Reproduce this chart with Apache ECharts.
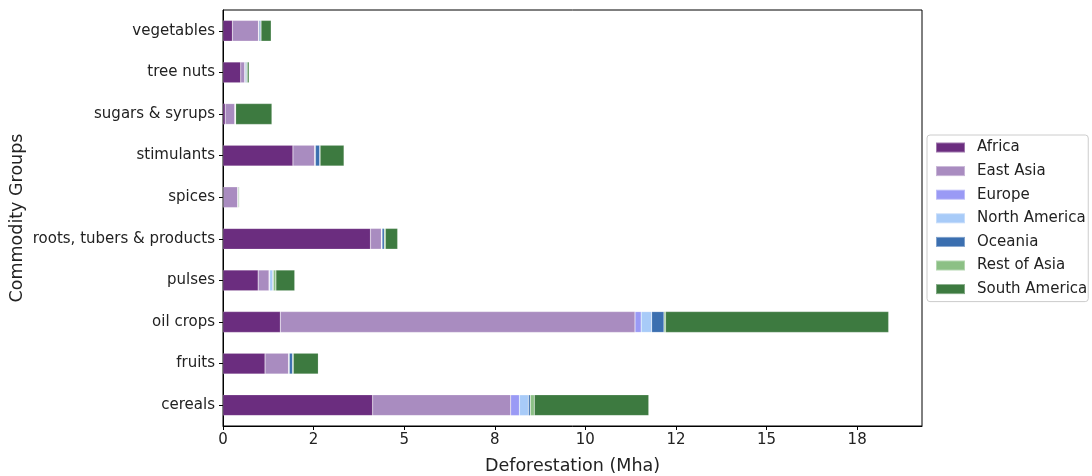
<!DOCTYPE html>
<html>
<head>
<meta charset="utf-8">
<script src="https://cdn.jsdelivr.net/npm/echarts@6/dist/echarts.min.js"></script>
<style>html,body{margin:0;padding:0;background:#fff;}#c{width:1092px;height:476px;}</style>
</head>
<body>
<div id="c"></div>
<script>
const categories = ['cereals','fruits','oil crops','pulses','roots, tubers & products','spices','stimulants','sugars & syrups','tree nuts','vegetables'];
const regions = ['Africa','East Asia','Europe','North America','Oceania','Rest of Asia','South America'];
const colors = ['#6b2d7f','#a98cc0','#9a9af5','#a8cbf8','#3b6fb0','#8cc085','#3d7a40'];
const africa       = [4.13, 1.16, 1.58, 0.97, 4.07, 0.01, 1.93, 0.06, 0.49, 0.26];
const eastAsia     = [3.81, 0.65, 9.79, 0.30, 0.30, 0.40, 0.60, 0.27, 0.11, 0.72];
const europe       = [0.24, 0.01, 0.17, 0.02, 0.01, 0.00, 0.01, 0.00, 0.01, 0.01];
const northAmerica = [0.25, 0.01, 0.29, 0.08, 0.01, 0.00, 0.01, 0.00, 0.01, 0.01];
const oceania      = [0.05, 0.09, 0.34, 0.02, 0.06, 0.00, 0.12, 0.01, 0.03, 0.04];
const restOfAsia   = [0.11, 0.02, 0.04, 0.07, 0.03, 0.02, 0.01, 0.01, 0.02, 0.01];
const southAmerica = [3.16, 0.69, 6.16, 0.52, 0.34, 0.02, 0.66, 1.00, 0.05, 0.28];
const seriesData = [africa, eastAsia, europe, northAmerica, oceania, restOfAsia, southAmerica];
const xTickValues = [0, 2.5, 5, 7.5, 10, 12.5, 15, 17.5];
const xTickLabels = ['0','2','5','8','10','12','15','18'];
const xMax = 19.29;

const chart = echarts.init(document.getElementById('c'));
const font = 'DejaVu Sans';
chart.setOption({
  animation: false,
  textStyle: {fontFamily: font},
  grid: {left: 223, right: 170, top: 10, bottom: 50, show: true, borderColor: '#000', borderWidth: 1,
         containLabel: false, outerBoundsMode: 'none'},
  legend: {
    orient: 'vertical', left: 927, top: 135,
    data: regions,
    itemWidth: 29, itemHeight: 10, itemGap: 8.6,
    textStyle: {fontFamily: font, fontSize: 15, color: '#222', padding: [0, 0, 0, 7]},
    borderColor: '#ccc', borderWidth: 1, borderRadius: 3,
    padding: [5, 1, 5, 8],
    icon: 'rect'
  },
  xAxis: {
    type: 'value', min: 0, max: xMax, interval: 2.5,
    name: 'Deforestation (Mha)', nameLocation: 'middle', nameGap: 31,
    nameTextStyle: {fontFamily: font, fontSize: 17.5, color: '#222'},
    axisLine: {show: true, lineStyle: {color: '#000'}},
    axisTick: {show: true, length: 4, lineStyle: {color: '#000'}},
    splitLine: {show: false},
    axisLabel: {
      color: '#222', fontSize: 15, fontFamily: font, margin: 7, showMaxLabel: false,
      formatter: function (v) {
        const i = xTickValues.findIndex(t => Math.abs(t - v) < 1e-6);
        return i >= 0 ? xTickLabels[i] : '';
      }
    }
  },
  yAxis: {
    type: 'category', data: categories,
    name: 'Commodity Groups', nameLocation: 'middle', nameGap: 197,
    nameMoveOverlap: false,
    nameTextStyle: {fontFamily: font, fontSize: 17.5, color: '#222'},
    axisLine: {show: true, lineStyle: {color: '#000'}},
    axisTick: {show: true, alignWithLabel: true, length: 4, lineStyle: {color: '#000'}},
    axisLabel: {color: '#222', fontSize: 15, fontFamily: font, margin: 8}
  },
  series: regions.map((r, i) => ({
    name: r, type: 'bar', stack: 'total', barWidth: '50%',
    data: seriesData[i],
    itemStyle: {color: colors[i], borderColor: 'rgba(255,255,255,0.35)', borderWidth: 0.5}
  }))
});
</script>
</body>
</html>
